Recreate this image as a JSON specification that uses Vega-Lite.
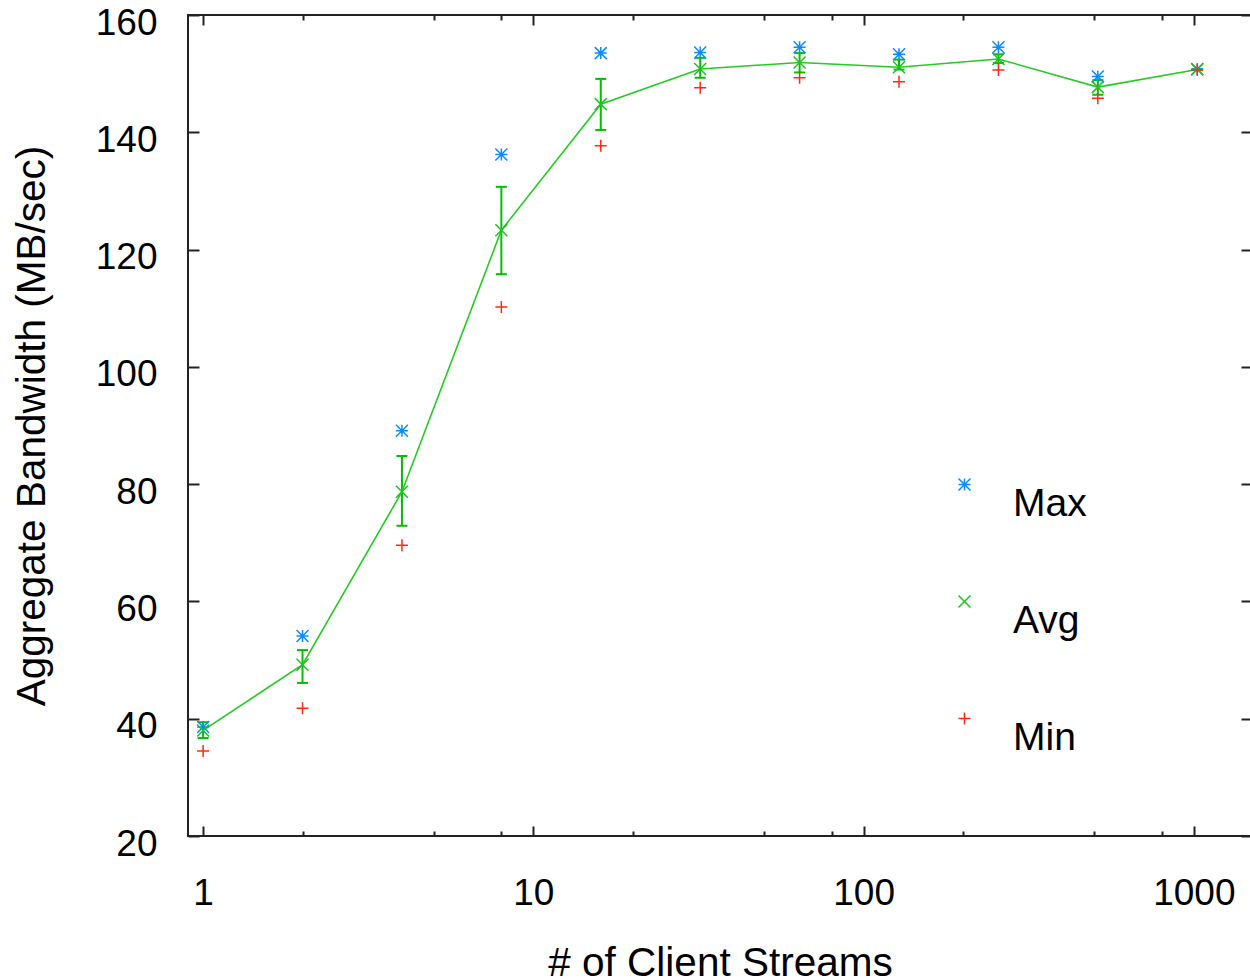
{
  "$schema": "https://vega.github.io/schema/vega-lite/v6.json",
  "width": 1064,
  "height": 821,
  "autosize": {"type": "none"},
  "padding": {"left": 188, "top": 15, "right": 0, "bottom": 144},
  "background": "white",
  "config": {
    "font": "Liberation Sans",
    "view": {"stroke": "#222", "strokeWidth": 2},
    "axis": {
      "domain": false,
      "grid": false,
      "tickColor": "#222",
      "tickWidth": 2,
      "labelColor": "#000",
      "labelFont": "Liberation Sans",
      "labelFontSize": 37,
      "titleFont": "Liberation Sans",
      "titleFontSize": 40.5,
      "titleFontWeight": "normal",
      "titleColor": "#000"
    }
  },
  "data": {
    "values": [
      {"n": 1, "Max": 38.6, "Avg": 38.0, "Min": 34.5, "lo": 36.7, "hi": 39.4},
      {"n": 2, "Max": 54.1, "Avg": 49.2, "Min": 41.8, "lo": 46.1, "hi": 51.7},
      {"n": 4, "Max": 89.1, "Avg": 78.7, "Min": 69.6, "lo": 72.9, "hi": 84.8},
      {"n": 8, "Max": 136.2, "Avg": 123.3, "Min": 110.2, "lo": 115.8, "hi": 130.7},
      {"n": 16, "Max": 153.5, "Avg": 144.8, "Min": 137.7, "lo": 140.4, "hi": 149.1},
      {"n": 32, "Max": 153.6, "Avg": 150.8, "Min": 147.6, "lo": 149.3, "hi": 152.7},
      {"n": 64, "Max": 154.5, "Avg": 151.9, "Min": 149.3, "lo": 150.2, "hi": 153.5},
      {"n": 128, "Max": 153.3, "Avg": 151.1, "Min": 148.6, "lo": 150.7, "hi": 152.4},
      {"n": 256, "Max": 154.5, "Avg": 152.5, "Min": 150.6, "lo": 151.8, "hi": 153.3},
      {"n": 512, "Max": 149.5, "Avg": 147.7, "Min": 145.8, "lo": 146.4, "hi": 148.9},
      {"n": 1024, "Max": 150.8, "Avg": 150.7, "Min": 150.6, "lo": 150.7, "hi": 150.7}
    ]
  },
  "layer": [
    {
      "mark": {"type": "rule", "color": "#00c000", "strokeWidth": 2},
      "encoding": {
        "x": {
          "field": "n", "type": "quantitative",
          "scale": {"type": "log", "domain": [0.9, 1500], "nice": false},
          "axis": {"orient": "bottom", "values": [1, 10, 100, 1000], "format": "d", "tickSize": -10, "labelPadding": 49, "title": "# of Client Streams", "titlePadding": 32, "labelFlush": false}
        },
        "y": {
          "field": "lo", "type": "quantitative",
          "scale": {"domain": [20, 160], "nice": false},
          "axis": {"orient": "left", "values": [20, 40, 60, 80, 100, 120, 140, 160], "tickSize": -11, "labelPadding": 42, "labelOffset": 8, "title": "Aggregate Bandwidth (MB/sec)", "titlePadding": 42, "labelFlush": false}
        },
        "y2": {"field": "hi"}
      }
    },
    {
      "mark": {"type": "point", "shape": "M-1,0L1,0", "filled": false, "size": 121, "color": "#00c000", "strokeWidth": 2, "opacity": 1},
      "encoding": {
        "x": {
          "field": "n", "type": "quantitative",
          "axis": {"orient": "bottom", "values": [2, 5, 8, 20, 50, 80, 200, 500, 800], "tickSize": -5, "labels": false, "title": null}
        },
        "y": {
          "field": "lo", "type": "quantitative",
          "axis": {"orient": "right", "values": [20, 40, 60, 80, 100, 120, 140, 160], "tickSize": -11, "labels": false, "title": null}
        }
      }
    },
    {
      "mark": {"type": "point", "shape": "M-1,0L1,0", "filled": false, "size": 121, "color": "#00c000", "strokeWidth": 2, "opacity": 1},
      "encoding": {
        "x": {
          "field": "n", "type": "quantitative",
          "axis": {"orient": "top", "values": [1, 10, 100, 1000], "tickSize": -10, "labels": false, "title": null}
        },
        "y": {"field": "hi", "type": "quantitative", "axis": null}
      }
    },
    {
      "mark": {"type": "line", "color": "#22cc22", "strokeWidth": 1.6},
      "encoding": {
        "x": {
          "field": "n", "type": "quantitative",
          "axis": {"orient": "top", "values": [2, 5, 8, 20, 50, 80, 200, 500, 800], "tickSize": -5, "labels": false, "title": null}
        },
        "y": {"field": "Avg", "type": "quantitative", "axis": null}
      }
    },
    {
      "transform": [{"fold": ["Max", "Avg", "Min"], "as": ["series", "bw"]}],
      "mark": {"type": "point", "filled": false, "size": 144, "strokeWidth": 1.5, "opacity": 1},
      "encoding": {
        "x": {"field": "n", "type": "quantitative", "axis": null},
        "y": {"field": "bw", "type": "quantitative", "axis": null},
        "color": {
          "field": "series", "type": "nominal",
          "scale": {"domain": ["Max", "Avg", "Min"], "range": ["#0a8cff", "#22c022", "#ff2a10"]},
          "legend": {
            "orient": "none", "legendX": 757, "legendY": 450, "title": null,
            "labelFontSize": 39, "labelFont": "Liberation Sans", "labelColor": "#000",
            "labelOffset": 29, "rowPadding": 58, "symbolSize": 144, "symbolStrokeWidth": 1.5,
            "labelBaseline": "top", "padding": 0,
            "encode": {"labels": {"update": {"dy": {"value": -10}}}}
          }
        },
        "shape": {
          "field": "series", "type": "nominal",
          "scale": {"domain": ["Max", "Avg", "Min"], "range": ["M-1,0L1,0M0,-1L0,1M-1,-1L1,1M-1,1L1,-1", "M-1,-1L1,1M-1,1L1,-1", "M-1,0L1,0M0,-1L0,1"]},
          "legend": null
        }
      }
    }
  ],
  "resolve": {"axis": {"x": "independent", "y": "independent"}}
}
